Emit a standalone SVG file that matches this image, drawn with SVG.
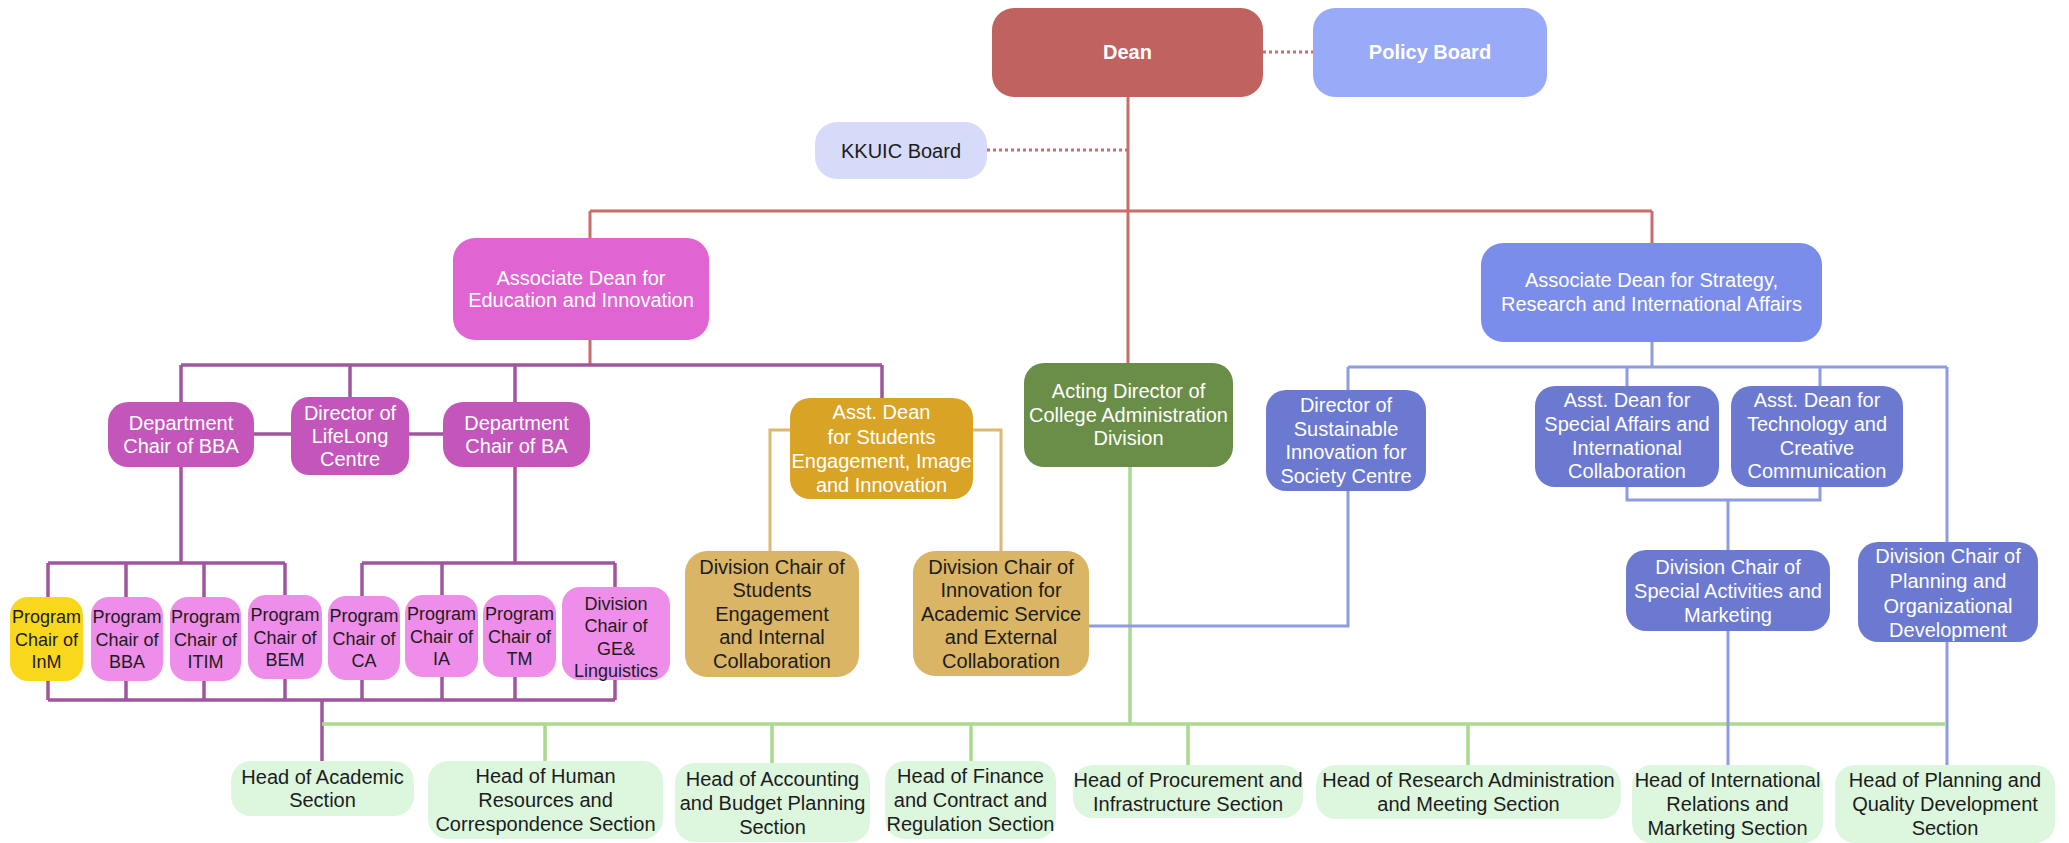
<svg xmlns="http://www.w3.org/2000/svg" width="2069" height="843" viewBox="0 0 2069 843">
<style>
text{font-family:"Liberation Sans",Arial,sans-serif;font-size:20px;text-anchor:middle}
.w{fill:#ffffff}
.d{fill:#1c1c1c}
.bold{font-weight:bold;font-size:20px}
.sm{font-size:18px}
.cr{stroke:#CB6C6B;stroke-width:3;fill:none}
.cd{stroke:#CB6C6B;stroke-width:3;fill:none;stroke-dasharray:3 3}
.cp{stroke:#A0569E;stroke-width:3.5;fill:none}
.ct{stroke:#DCB870;stroke-width:3;fill:none}
.cg{stroke:#A9DA8E;stroke-width:3.5;fill:none}
.cb{stroke:#8E9CE0;stroke-width:3;fill:none}
</style>
<rect width="2069" height="843" fill="#ffffff"/>
<g id="connectors">
  <path class="cr" d="M1128 97V363M590 211H1652M590 211V238M1652 211V243M590 340V365"/>
  <path class="cd" d="M1263 52H1313M987 150H1127"/>
  <path class="cp" d="M181 365H882M181 365V402M350 365V397M515 365V402M882 365V398M254 434H291M409 434H443M181 467V563M515 467V563M48 563H285M362 563H615M48 563V597M126 563V597M204 563V597M285 563V596M362 563V596M442 563V595M615 563V587M48 681V700M126 681V700M204 681V700M285 679V700M362 680V700M442 677V700M515 677V700M615 680V700M48 700H615M322 700V761"/>
  <path class="ct" d="M790 430H770V551M973 430H1001V551"/>
  <path class="cg" d="M1130 467V724M322 724H1945M545 724V761M772 724V763M971 724V761M1188 724V765M1468 724V765"/>
  <path class="cb" d="M1652 342V367M1348 367H1947M1348 367V390M1627 367V386M1820 367V386M1947 367V542M1627 487V500H1820V487M1728 500V550M1348 491V626H1089M1728 631V765M1947 642V765"/>
</g>
<g id="dean"><rect x="992" y="8" width="271" height="89" rx="22" fill="#C0625F"/><text class="w bold" x="1127.5" y="59">Dean</text></g>
<g id="policy-board"><rect x="1313" y="8" width="234" height="89" rx="22" fill="#98AAF8"/><text class="w bold" x="1430" y="59">Policy Board</text></g>
<g id="kkuic-board"><rect x="815" y="122" width="172" height="57" rx="22" fill="#D6DBFA"/><text class="d" x="901" y="158">KKUIC Board</text></g>
<g id="assoc-dean-edu"><rect x="453" y="238" width="256" height="102" rx="22" fill="#E064D2"/><text class="w" x="581" y="285">Associate Dean for</text><text class="w" x="581" y="307">Education and Innovation</text></g>
<g id="assoc-dean-strategy"><rect x="1481" y="243" width="341" height="99" rx="22" fill="#7B8DEB"/><text class="w" x="1651.5" y="287">Associate Dean for Strategy,</text><text class="w" x="1651.5" y="311">Research and International Affairs</text></g>
<g id="acting-director"><rect x="1024" y="363" width="209" height="104" rx="20" fill="#6A8E47"/><text class="w" x="1128.5" y="398">Acting Director of</text><text class="w" x="1128.5" y="422">College Administration</text><text class="w" x="1128.5" y="445">Division</text></g>
<g id="dept-chair-bba"><rect x="108" y="402" width="146" height="65" rx="20" fill="#C455BA"/><text class="w" x="181" y="430">Department</text><text class="w" x="181" y="453">Chair of BBA</text></g>
<g id="director-lifelong"><rect x="291" y="397" width="118" height="78" rx="18" fill="#C455BA"/><text class="w" x="350" y="420">Director of</text><text class="w" x="350" y="443">LifeLong</text><text class="w" x="350" y="466">Centre</text></g>
<g id="dept-chair-ba"><rect x="443" y="402" width="147" height="65" rx="20" fill="#C455BA"/><text class="w" x="516.5" y="430">Department</text><text class="w" x="516.5" y="453">Chair of BA</text></g>
<g id="asst-dean-students"><rect x="790" y="398" width="183" height="101" rx="20" fill="#D9A426"/><text class="w" x="881.5" y="419">Asst. Dean</text><text class="w" x="881.5" y="444">for Students</text><text class="w" x="881.5" y="468">Engagement, Image</text><text class="w" x="881.5" y="492">and Innovation</text></g>
<g id="director-sustainable"><rect x="1266" y="390" width="160" height="101" rx="20" fill="#6C79D0"/><text class="w" x="1346" y="412">Director of</text><text class="w" x="1346" y="436">Sustainable</text><text class="w" x="1346" y="459">Innovation for</text><text class="w" x="1346" y="483">Society Centre</text></g>
<g id="asst-dean-special"><rect x="1535" y="386" width="184" height="101" rx="20" fill="#6C79D0"/><text class="w" x="1627" y="407">Asst. Dean for</text><text class="w" x="1627" y="431">Special Affairs and</text><text class="w" x="1627" y="455">International</text><text class="w" x="1627" y="478">Collaboration</text></g>
<g id="asst-dean-tech"><rect x="1731" y="386" width="172" height="101" rx="20" fill="#6C79D0"/><text class="w" x="1817" y="407">Asst. Dean for</text><text class="w" x="1817" y="431">Technology and</text><text class="w" x="1817" y="455">Creative</text><text class="w" x="1817" y="478">Communication</text></g>
<g id="div-chair-students"><rect x="685" y="551" width="174" height="126" rx="22" fill="#DAB565"/><text class="d" x="772" y="574">Division Chair of</text><text class="d" x="772" y="597">Students</text><text class="d" x="772" y="621">Engagement</text><text class="d" x="772" y="644">and Internal</text><text class="d" x="772" y="668">Collaboration</text></g>
<g id="div-chair-innovation"><rect x="913" y="551" width="176" height="125" rx="22" fill="#DAB565"/><text class="d" x="1001" y="574">Division Chair of</text><text class="d" x="1001" y="597">Innovation for</text><text class="d" x="1001" y="621">Academic Service</text><text class="d" x="1001" y="644">and External</text><text class="d" x="1001" y="668">Collaboration</text></g>
<g id="prog-inm"><rect x="10" y="597" width="73" height="84" rx="18" fill="#F9D71C"/><text class="d sm" x="46.5" y="623">Program</text><text class="d sm" x="46.5" y="646">Chair of</text><text class="d sm" x="46.5" y="668">InM</text></g>
<g id="prog-bba"><rect x="91" y="597" width="72" height="84" rx="18" fill="#EF8EEA"/><text class="d sm" x="127" y="623">Program</text><text class="d sm" x="127" y="646">Chair of</text><text class="d sm" x="127" y="668">BBA</text></g>
<g id="prog-itim"><rect x="170" y="597" width="71" height="84" rx="18" fill="#EF8EEA"/><text class="d sm" x="205.5" y="623">Program</text><text class="d sm" x="205.5" y="646">Chair of</text><text class="d sm" x="205.5" y="668">ITIM</text></g>
<g id="prog-bem"><rect x="248" y="595" width="74" height="84" rx="18" fill="#EF8EEA"/><text class="d sm" x="285" y="621">Program</text><text class="d sm" x="285" y="644">Chair of</text><text class="d sm" x="285" y="666">BEM</text></g>
<g id="prog-ca"><rect x="328" y="596" width="72" height="84" rx="18" fill="#EF8EEA"/><text class="d sm" x="364" y="622">Program</text><text class="d sm" x="364" y="645">Chair of</text><text class="d sm" x="364" y="667">CA</text></g>
<g id="prog-ia"><rect x="405" y="595" width="73" height="82" rx="18" fill="#EF8EEA"/><text class="d sm" x="441.5" y="620">Program</text><text class="d sm" x="441.5" y="643">Chair of</text><text class="d sm" x="441.5" y="665">IA</text></g>
<g id="prog-tm"><rect x="483" y="595" width="73" height="82" rx="18" fill="#EF8EEA"/><text class="d sm" x="519.5" y="620">Program</text><text class="d sm" x="519.5" y="643">Chair of</text><text class="d sm" x="519.5" y="665">TM</text></g>
<g id="div-chair-ge"><rect x="562" y="587" width="108" height="93" rx="18" fill="#EF8EEA"/><text class="d sm" x="616" y="610">Division</text><text class="d sm" x="616" y="632">Chair of</text><text class="d sm" x="616" y="655">GE&amp;</text><text class="d sm" x="616" y="677">Linguistics</text></g>
<g id="div-chair-special"><rect x="1626" y="550" width="204" height="81" rx="20" fill="#6C79D0"/><text class="w" x="1728" y="574">Division Chair of</text><text class="w" x="1728" y="598">Special Activities and</text><text class="w" x="1728" y="622">Marketing</text></g>
<g id="div-chair-planning"><rect x="1858" y="542" width="180" height="100" rx="20" fill="#6C79D0"/><text class="w" x="1948" y="563">Division Chair of</text><text class="w" x="1948" y="588">Planning and</text><text class="w" x="1948" y="613">Organizational</text><text class="w" x="1948" y="637">Development</text></g>
<g id="head-academic"><rect x="231" y="761" width="183" height="55" rx="20" fill="#DCF7DE"/><text class="d" x="322.5" y="784">Head of Academic</text><text class="d" x="322.5" y="807">Section</text></g>
<g id="head-hr"><rect x="428" y="761" width="235" height="78" rx="20" fill="#DCF7DE"/><text class="d" x="545.5" y="783">Head of Human</text><text class="d" x="545.5" y="807">Resources and</text><text class="d" x="545.5" y="831">Correspondence Section</text></g>
<g id="head-accounting"><rect x="675" y="763" width="195" height="79" rx="20" fill="#DCF7DE"/><text class="d" x="772.5" y="786">Head of Accounting</text><text class="d" x="772.5" y="810">and Budget Planning</text><text class="d" x="772.5" y="834">Section</text></g>
<g id="head-finance"><rect x="885" y="761" width="171" height="78" rx="20" fill="#DCF7DE"/><text class="d" x="970.5" y="783">Head of Finance</text><text class="d" x="970.5" y="807">and Contract and</text><text class="d" x="970.5" y="831">Regulation Section</text></g>
<g id="head-procurement"><rect x="1073" y="765" width="230" height="53" rx="20" fill="#DCF7DE"/><text class="d" x="1188" y="787">Head of Procurement and</text><text class="d" x="1188" y="811">Infrastructure Section</text></g>
<g id="head-research"><rect x="1316" y="765" width="305" height="54" rx="20" fill="#DCF7DE"/><text class="d" x="1468.5" y="787">Head of Research Administration</text><text class="d" x="1468.5" y="811">and Meeting Section</text></g>
<g id="head-international"><rect x="1632" y="765" width="191" height="78" rx="20" fill="#DCF7DE"/><text class="d" x="1727.5" y="787">Head of International</text><text class="d" x="1727.5" y="811">Relations and</text><text class="d" x="1727.5" y="835">Marketing Section</text></g>
<g id="head-planning-quality"><rect x="1835" y="765" width="220" height="78" rx="20" fill="#DCF7DE"/><text class="d" x="1945" y="787">Head of Planning and</text><text class="d" x="1945" y="811">Quality Development</text><text class="d" x="1945" y="835">Section</text></g>
</svg>
